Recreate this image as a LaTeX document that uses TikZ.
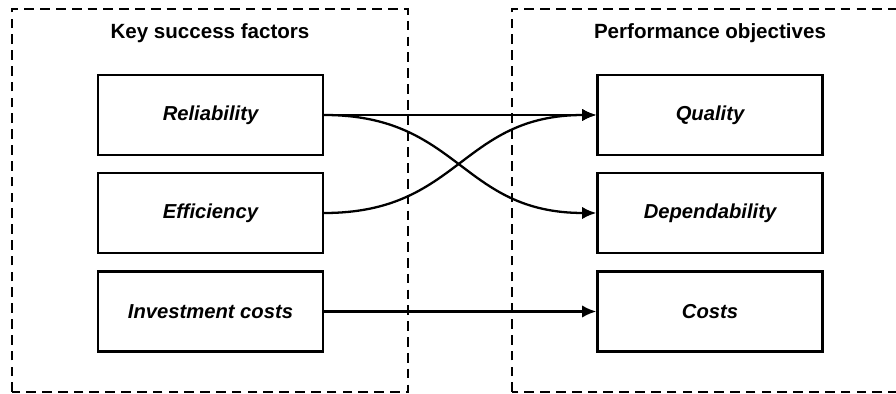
\documentclass[tikz,border=0pt]{standalone}
\usepackage{fontspec}
\setmainfont{Liberation Sans}
\usetikzlibrary{arrows.meta,positioning,calc}

\begin{document}
\begin{tikzpicture}[
        factor/.style={draw, line width=1.4pt, minimum width=4.5cm, minimum height=1.6cm,
                       font=\fontsize{11.5}{14}\selectfont\bfseries\itshape},
        group/.style={draw, line width=1.3pt, dash pattern=on 5.5pt off 3.5pt},
        title/.style={font=\fontsize{11.7}{14}\selectfont\bfseries},
        link/.style={draw, line width=1.3pt, -{Latex[length=8pt,width=7pt]}}
    ]
        \useasboundingbox (0,0) rectangle (17.92,7.88);
        %groups
        \draw[group] (0.24,0.04) rectangle (8.16,7.70);
        \draw[group] (10.24,0.04) rectangle (18.3,7.70);
        \node[title] (ksf) at (4.2,7.22) {Key success factors};
        \node[title] (po) at (14.2,7.22) {Performance objectives};
        %nodes
        \node[factor] (rel) at (4.21,5.58) {Reliability};
        \node[factor] (eff) at (4.21,3.62) {Efficiency};
        \node[factor] (inv) at (4.21,1.65) {Investment costs};
        \node[factor] (qual) at (14.2,5.58) {Quality};
        \node[factor] (dep) at (14.2,3.62) {Dependability};
        \node[factor] (cost) at (14.2,1.65) {Costs};
        %edges
        \path [link] (rel) to (qual);
        \path [link] (rel.east) to[out=0, in=180, looseness=1.2] (dep.west);
        \path [link] (eff.east) to[out=0, in=180, looseness=1.2] (qual.west);
        \path [link] (inv) to (cost);
      \end{tikzpicture}
\end{document}
